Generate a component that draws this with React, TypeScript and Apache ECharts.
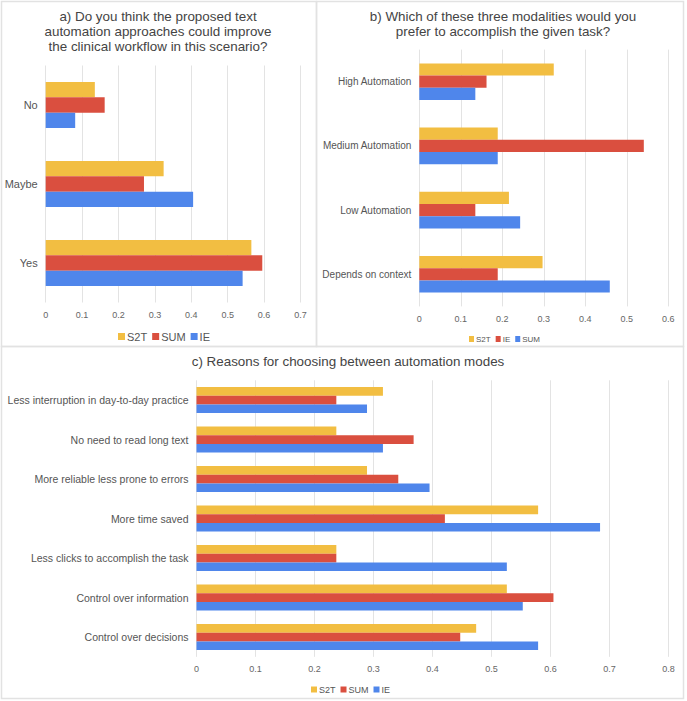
import React, { useEffect, useRef } from "react";
import * as echarts from "echarts";

const COLOR_Y = "#F2BE42";
const COLOR_R = "#DA4F3F";
const COLOR_B = "#4F86EB";

// Panel a
const catsA = ["No", "Maybe", "Yes"];
const aS2T = [0.135, 0.324, 0.565];
const aSUM = [0.162, 0.27, 0.595];
const aIE = [0.081, 0.405, 0.541];

// Panel b (legend order S2T, IE, SUM)
const catsB = ["High Automation", "Medium Automation", "Low Automation", "Depends on context"];
const bS2T = [0.324, 0.189, 0.216, 0.297];
const bIE = [0.162, 0.541, 0.135, 0.189];
const bSUM = [0.135, 0.189, 0.243, 0.459];

// Panel c
const catsC = [
  "Less interruption in day-to-day practice",
  "No need to read long text",
  "More reliable less prone to errors",
  "More time saved",
  "Less clicks to accomplish the task",
  "Control over information",
  "Control over decisions",
];
const cS2T = [0.316, 0.237, 0.289, 0.579, 0.237, 0.526, 0.474];
const cSUM = [0.237, 0.368, 0.342, 0.421, 0.237, 0.605, 0.447];
const cIE = [0.289, 0.316, 0.395, 0.684, 0.526, 0.553, 0.579];

const FONT = "Liberation Sans, Arial, sans-serif";

function xAxisDef(gridIndex: number, max: number, fs: number) {
  return {
    type: "value",
    gridIndex,
    min: 0,
    max,
    interval: 0.1,
    axisLine: { show: false },
    axisTick: { show: false },
    splitLine: { show: true, lineStyle: { color: "#e3e3e3", width: 1 } },
    axisLabel: { color: "#666", fontSize: fs, fontFamily: FONT, margin: 8 },
  };
}

function yAxisDef(gridIndex: number, data: string[], fs: number) {
  return {
    type: "category",
    gridIndex,
    data,
    inverse: true,
    axisLine: { show: false },
    axisTick: { show: false },
    splitLine: { show: false },
    axisLabel: { color: "#555", fontSize: fs, fontFamily: FONT, margin: 8 },
  };
}

function bar(name: string, idx: number, data: number[], color: string, w: number) {
  return {
    type: "bar",
    name,
    xAxisIndex: idx,
    yAxisIndex: idx,
    data,
    barWidth: w,
    barGap: "0%",
    itemStyle: { color },
    silent: true,
  };
}

export default function App() {
  const ref = useRef<HTMLDivElement>(null);
  useEffect(() => {
    if (!ref.current) return;
    const chart = echarts.init(ref.current, null, { renderer: "svg" });
    const titleStyle = { color: "#444", fontSize: 13.4, fontWeight: "normal", fontFamily: FONT, lineHeight: 15 };
    chart.setOption({
      animation: false,
      backgroundColor: "#fff",
      title: [
        {
          text: "a) Do you think the proposed text\nautomation approaches could improve\nthe clinical workflow in this scenario?",
          left: 158,
          top: 8.5,
          padding: 0,
          textAlign: "center",
          textStyle: titleStyle,
        },
        {
          text: "b) Which of these three modalities would you\nprefer to accomplish the given task?",
          left: 503,
          top: 8.5,
          padding: 0,
          textAlign: "center",
          textStyle: titleStyle,
        },
        {
          text: "c) Reasons for choosing between automation modes",
          left: 348,
          top: 353.5,
          padding: 0,
          textAlign: "center",
          textStyle: titleStyle,
        },
      ],
      legend: [
        {
          left: 113,
          top: 326,
          icon: "rect",
          itemWidth: 7,
          itemHeight: 7,
          itemGap: 5,
          textStyle: { color: "#555", fontSize: 11, fontFamily: FONT, padding: [0, 0, 0, -3] },
          data: [
            { name: "S2T", itemStyle: { color: COLOR_Y } },
            { name: "SUM", itemStyle: { color: COLOR_R } },
            { name: "IE", itemStyle: { color: COLOR_B } },
          ],
          selectedMode: false,
        },
        {
          left: 464,
          top: 330,
          icon: "rect",
          itemWidth: 5,
          itemHeight: 6,
          itemGap: 5,
          textStyle: { color: "#555", fontSize: 8, fontFamily: FONT, padding: [0, 0, 0, -3] },
          data: [
            { name: "S2T", itemStyle: { color: COLOR_Y } },
            { name: "IE", itemStyle: { color: COLOR_R } },
            { name: "SUM", itemStyle: { color: COLOR_B } },
          ],
          selectedMode: false,
        },
        {
          left: 306,
          top: 680,
          icon: "rect",
          itemWidth: 6,
          itemHeight: 6,
          itemGap: 5,
          textStyle: { color: "#555", fontSize: 9, fontFamily: FONT, padding: [0, 0, 0, -3] },
          data: [
            { name: "S2T", itemStyle: { color: COLOR_Y } },
            { name: "SUM", itemStyle: { color: COLOR_R } },
            { name: "IE", itemStyle: { color: COLOR_B } },
          ],
          selectedMode: false,
        },
      ],
      grid: [
        { left: 45.7, top: 65.5, width: 254.8, height: 237 },
        { left: 419.3, top: 49.6, width: 249, height: 256.8 },
        { left: 196.5, top: 380.3, width: 472, height: 276.5 },
      ],
      xAxis: [xAxisDef(0, 0.7, 9), xAxisDef(1, 0.6, 9), xAxisDef(2, 0.8, 9)],
      yAxis: [yAxisDef(0, catsA, 11), yAxisDef(1, catsB, 10), yAxisDef(2, catsC, 10.5)],
      series: [
        bar("S2T", 0, aS2T, COLOR_Y, 15.3),
        bar("SUM", 0, aSUM, COLOR_R, 15.3),
        bar("IE", 0, aIE, COLOR_B, 15.3),
        bar("S2T", 1, bS2T, COLOR_Y, 12.2),
        bar("IE", 1, bIE, COLOR_R, 12.2),
        bar("SUM", 1, bSUM, COLOR_B, 12.2),
        bar("S2T", 2, cS2T, COLOR_Y, 8.7),
        bar("SUM", 2, cSUM, COLOR_R, 8.7),
        bar("IE", 2, cIE, COLOR_B, 8.7),
      ],
      graphic: [
        { type: "rect", shape: { x: 1.5, y: 1.5, width: 315, height: 345 }, style: { fill: "none", stroke: "#e2e2e2", lineWidth: 1.5 }, silent: true },
        { type: "rect", shape: { x: 316.5, y: 1.5, width: 367, height: 345 }, style: { fill: "none", stroke: "#e2e2e2", lineWidth: 1.5 }, silent: true },
        { type: "rect", shape: { x: 1.5, y: 346.5, width: 682, height: 352 }, style: { fill: "none", stroke: "#e2e2e2", lineWidth: 1.5 }, silent: true },
      ],
    });
    return () => chart.dispose();
  }, []);
  return <div ref={ref} style={{ position: "absolute", left: 0, top: 0, width: 687, height: 701 }} />;
}
